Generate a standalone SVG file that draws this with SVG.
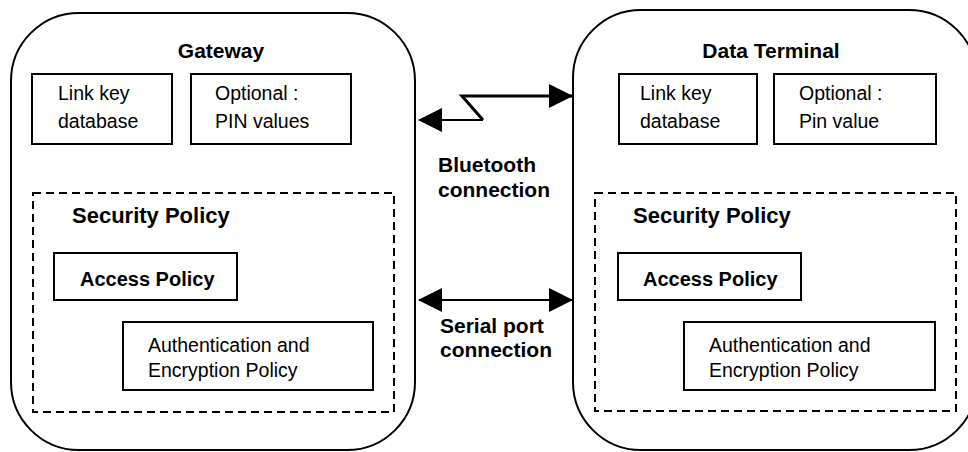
<svg xmlns="http://www.w3.org/2000/svg" width="968" height="452" viewBox="0 0 968 452">
<style>
.outer{fill:#fff;stroke:#000;stroke-width:2}
.box{fill:#fff;stroke:#000;stroke-width:2}
.dash{fill:none;stroke:#000;stroke-width:2;stroke-dasharray:8 5}
.t{font-family:"Liberation Sans",Arial,sans-serif;font-size:19.5px;fill:#000}
.b{font-family:"Liberation Sans",Arial,sans-serif;font-weight:bold;font-size:20px;fill:#000}
.h{font-family:"Liberation Sans",Arial,sans-serif;font-weight:bold;font-size:21px;fill:#000}
.conn{fill:none;stroke:#000}
</style>
<defs>
<marker id="ah" markerUnits="userSpaceOnUse" markerWidth="24" markerHeight="24" refX="23" refY="12" orient="auto-start-reverse" viewBox="0 0 24 24">
<path d="M0,0 L24,12 L0,24 z" fill="#000"/>
</marker>
</defs>
<rect width="968" height="452" fill="#fff"/>
<g id="gateway">
<rect class="outer" x="11" y="13" width="404" height="437" rx="68" ry="68"/>
<text class="h" x="221" y="58" text-anchor="middle">Gateway</text>
</g>
<g id="gw-linkkey">
<rect class="box" x="32" y="74" width="140" height="70"/>
<text class="t" x="58" y="100">Link key</text>
<text class="t" x="58" y="128">database</text>
</g>
<g id="gw-pin">
<rect class="box" x="191" y="74" width="160" height="70"/>
<text class="t" x="215" y="100">Optional :</text>
<text class="t" x="215" y="128">PIN values</text>
</g>
<g id="gw-security">
<rect class="dash" x="33" y="193" width="361" height="219"/>
<text class="h" x="72" y="223" style="font-size:22px">Security Policy</text>
</g>
<g id="gw-access">
<rect class="box" x="54" y="253" width="183" height="47"/>
<text class="b" x="80" y="286">Access Policy</text>
</g>
<g id="gw-auth">
<rect class="box" x="123" y="322" width="250" height="68"/>
<text class="t" x="148" y="352">Authentication and</text>
<text class="t" x="148" y="377">Encryption Policy</text>
</g>
<g id="terminal">
<rect class="outer" x="573" y="10" width="404" height="440" rx="68" ry="68"/>
<text class="h" x="771" y="58" text-anchor="middle">Data Terminal</text>
</g>
<g id="dt-linkkey">
<rect class="box" x="619" y="74" width="138" height="70"/>
<text class="t" x="640" y="100">Link key</text>
<text class="t" x="640" y="128">database</text>
</g>
<g id="dt-pin">
<rect class="box" x="774" y="74" width="162" height="70"/>
<text class="t" x="799" y="100">Optional :</text>
<text class="t" x="799" y="128">Pin value</text>
</g>
<g id="dt-security">
<rect class="dash" x="595" y="193" width="361" height="218"/>
<text class="h" x="633" y="223" style="font-size:22px">Security Policy</text>
</g>
<g id="dt-access">
<rect class="box" x="618" y="253" width="183" height="47"/>
<text class="b" x="643" y="286">Access Policy</text>
</g>
<g id="dt-auth">
<rect class="box" x="684" y="322" width="251" height="68"/>
<text class="t" x="709" y="352">Authentication and</text>
<text class="t" x="709" y="377">Encryption Policy</text>
</g>
<g id="connectors">
<path class="conn" d="M483,120 L419,120" stroke-width="2" marker-end="url(#ah)"/>
<path class="conn" d="M483,120 L462,96 L572,96" stroke-width="3" marker-end="url(#ah)"/>
<path class="conn" d="M419,300 L572,300" stroke-width="2" marker-start="url(#ah)" marker-end="url(#ah)"/>
<text class="h" x="438" y="172">Bluetooth</text>
<text class="h" x="438" y="197">connection</text>
<text class="h" x="440" y="333">Serial port</text>
<text class="h" x="440" y="357">connection</text>
</g>
</svg>
